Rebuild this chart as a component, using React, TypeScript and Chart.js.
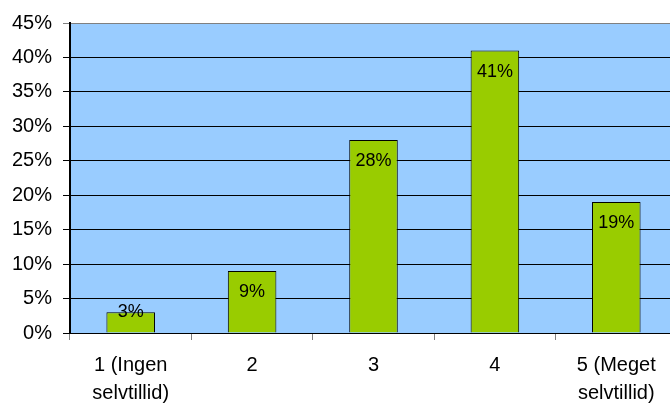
import React, { useEffect, useRef } from "react";
import { Chart, registerables } from "chart.js";

Chart.register(...registerables);

const categories: (string | string[])[] = [
  ["1 (Ingen", "selvtillid)"],
  "2",
  "3",
  "4",
  ["5 (Meget", "selvtillid)"],
];
const values: number[] = [3, 9, 28, 41, 19];
const yTicks: number[] = [0, 5, 10, 15, 20, 25, 30, 35, 40, 45];

const FONT = "'Liberation Sans', Arial, sans-serif";

const bgPlugin = {
  id: "plotBg",
  beforeDraw(chart: any) {
    const { ctx, chartArea } = chart;
    ctx.save();
    ctx.fillStyle = "#99CCFF";
    ctx.fillRect(chartArea.left, chartArea.top, chartArea.right - chartArea.left, chartArea.bottom - chartArea.top);
    ctx.restore();
  },
};

const labelPlugin = {
  id: "barLabels",
  afterDatasetsDraw(chart: any) {
    const { ctx } = chart;
    const meta = chart.getDatasetMeta(0);
    ctx.save();
    ctx.font = `18px ${FONT}`;
    ctx.fillStyle = "#000";
    ctx.textAlign = "center";
    ctx.textBaseline = "middle";
    meta.data.forEach((bar: any, i: number) => {
      const top = bar.y;
      const base = bar.base;
      const h = base - top;
      const off = Math.max(0, Math.min(21, h - 21));
      ctx.fillText(`${values[i]}%`, bar.x, top + off);
    });
    ctx.restore();
  },
};

export default function App() {
  const ref = useRef<HTMLCanvasElement>(null);
  useEffect(() => {
    if (!ref.current) return;
    const chart = new Chart(ref.current, {
      type: "bar",
      data: {
        labels: categories as any,
        datasets: [
          {
            data: values,
            backgroundColor: "#99CC00",
            borderColor: "#000",
            borderWidth: 1,
            barPercentage: 0.4,
            categoryPercentage: 1,
          },
        ],
      },
      options: {
        responsive: false,
        animation: false,
        layout: { padding: { top: 23, left: 0, right: 0, bottom: 0 } },
        plugins: { legend: { display: false }, tooltip: { enabled: false } },
        scales: {
          x: {
            grid: {
              display: true,
              drawOnChartArea: false,
              drawTicks: true,
              tickLength: 7,
              color: "#808080",
              offset: true,
            },
            border: { display: false },
            ticks: {
              color: "#000",
              font: { family: FONT, size: 20, lineHeight: 1.4 },
              padding: 11,
              maxRotation: 0,
              autoSkip: false,
            },
            afterFit(scale: any) {
              scale.height = 70;
            },
          },
          y: {
            min: 0,
            max: 45,
            afterBuildTicks(scale: any) {
              scale.ticks = yTicks.map((v) => ({ value: v }));
            },
            grid: {
              color: (c: any) => (c.tick && c.tick.value === 45 ? "#808080" : "#000"),
              lineWidth: 1,
              tickLength: 7,
            },
            border: { display: true, color: "#000", width: 2 },
            ticks: {
              color: "#000",
              font: { family: FONT, size: 20 },
              padding: 11,
              callback: (v: any) => `${v}%`,
            },
            afterFit(scale: any) {
              scale.width = 70;
            },
          },
        },
      },
      plugins: [bgPlugin, labelPlugin],
    });
    return () => chart.destroy();
  }, []);
  return (
    <div style={{ position: "absolute", left: 0, top: 0, width: 670, height: 403, overflow: "hidden", background: "#fff" }}>
      <canvas ref={ref} width={677} height={403} style={{ display: "block" }} />
    </div>
  );
}
